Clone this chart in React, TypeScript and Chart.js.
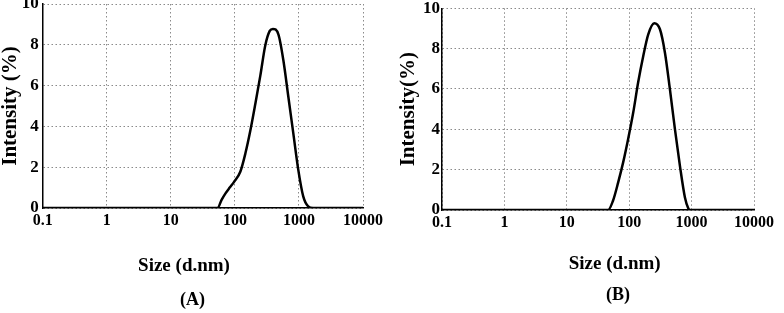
import React, { useEffect, useRef } from "react";
import { Chart, registerables } from "chart.js";
Chart.register(...registerables);

const xTickValues = [0.1, 1, 10, 100, 1000, 10000];
const xTickLabels = ["0.1", "1", "10", "100", "1000", "10000"];

const sizesA = [0.1, 0.4, 1, 10, 40, 53.5, 62, 71.8, 83, 96.6, 122, 146, 175, 209, 250, 298, 350, 392, 479, 572, 684, 817, 977, 1167, 1394, 1660, 2000, 10000];
const intensityA = [0, 0, 0, 0, 0, 0, 0.4, 0.73, 1.0, 1.27, 1.79, 2.68, 3.82, 5.12, 6.5, 7.97, 8.68, 8.78, 8.5, 7.23, 5.44, 3.66, 1.87, 0.57, 0.08, 0, 0, 0];

const sizesB = [0.1, 0.4, 1, 10, 40, 46, 55, 66.6, 80, 96, 116, 139, 168, 202, 252, 311, 374, 449, 541, 650, 782, 880, 941, 1200, 10000];
const intensityB = [0, 0, 0, 0, 0, 0, 0.46, 1.37, 2.36, 3.51, 4.83, 6.32, 7.64, 8.71, 9.26, 8.96, 7.8, 5.99, 4.0, 2.19, 0.62, 0.1, 0, 0, 0];

const SERIF = "'Liberation Serif', 'Times New Roman', serif";

type Opts = {
  sizes: number[];
  values: number[];
  padTop: number;
  padRight: number;
  xHeight: number;
  yWidth: number;
  yTitle: string;
  yTitlePad: number;
  yTickPad: number;
};

function makeConfig(o: Opts): any {
  return {
    type: "line",
    data: {
      datasets: [
        {
          data: o.sizes.map((s, i) => ({ x: s, y: o.values[i] })),
          borderColor: "#000",
          borderWidth: 2.5,
          pointRadius: 0,
          cubicInterpolationMode: "monotone",
          fill: false,
        },
      ],
    },
    options: {
      responsive: false,
      animation: false,
      layout: { padding: { left: 0, top: o.padTop, right: o.padRight, bottom: 0 } },
      plugins: { legend: { display: false }, tooltip: { enabled: false } },
      scales: {
        x: {
          type: "logarithmic",
          min: 0.1,
          max: 10000,
          afterBuildTicks: (scale: any) => {
            scale.ticks = xTickValues.map((v) => ({ value: v }));
          },
          afterFit: (scale: any) => {
            scale.height = o.xHeight;
            scale.paddingLeft = 0;
            scale.paddingRight = 0;
          },
          ticks: {
            autoSkip: false,
            maxRotation: 0,
            padding: 3,
            color: "#000",
            font: { family: SERIF, size: 16, weight: "bold" },
            callback: (v: any) => {
              const i = xTickValues.findIndex((t) => Math.abs(t - v) < 1e-9 * Math.max(1, t));
              return i >= 0 ? xTickLabels[i] : "";
            },
          },
          grid: { color: "#8a8a8a", lineWidth: 1, drawTicks: false },
          border: { color: "#000", width: 1.5, dash: [1.5, 2.5] },
        },
        y: {
          min: 0,
          max: 10,
          afterFit: (scale: any) => {
            scale.width = o.yWidth;
            scale.paddingTop = 0;
            scale.paddingBottom = 0;
          },
          ticks: {
            stepSize: 2,
            padding: o.yTickPad,
            color: "#000",
            font: { family: SERIF, size: 17, weight: "bold" },
          },
          grid: { color: "#8a8a8a", lineWidth: 1, drawTicks: false },
          border: { color: "#000", width: 1.5, dash: [1.5, 2.5] },
          title: {
            display: true,
            text: o.yTitle,
            color: "#000",
            padding: { top: o.yTitlePad, bottom: 0 },
            font: { family: SERIF, size: 21, weight: "bold", lineHeight: 1 },
          },
        },
      },
    },
  };
}

function Panel(props: { opts: Opts; left: number }) {
  const ref = useRef<HTMLCanvasElement | null>(null);
  useEffect(() => {
    if (!ref.current) return;
    const chart = new Chart(ref.current, makeConfig(props.opts));
    return () => chart.destroy();
  }, []);
  return (
    <div style={{ position: "absolute", left: props.left, top: 0, width: 392, height: 313 }}>
      <canvas ref={ref} width={392} height={313} style={{ width: 392, height: 313, display: "block" }} />
    </div>
  );
}

const labelStyle = (cx: number, cy: number, size: number): React.CSSProperties => ({
  position: "absolute",
  left: cx,
  top: cy,
  transform: "translate(-50%, -50%)",
  fontFamily: SERIF,
  fontWeight: "bold",
  fontSize: size,
  color: "#000",
  whiteSpace: "nowrap",
  lineHeight: 1,
});

export default function App() {
  const optsA: Opts = {
    sizes: sizesA,
    values: intensityA,
    padTop: 4,
    padRight: 29,
    xHeight: 105,
    yWidth: 42.7,
    yTitle: "Intensity (%)",
    yTitlePad: 0,
    yTickPad: 4,
  };
  const optsB: Opts = {
    sizes: sizesB,
    values: intensityB,
    padTop: 8.3,
    padRight: 30,
    xHeight: 103,
    yWidth: 50,
    yTitle: "Intensity(%)",
    yTitlePad: 6,
    yTickPad: 2,
  };
  return (
    <div style={{ position: "fixed", left: 0, top: 0, width: 784, height: 313, background: "#fff", overflow: "hidden" }}>
      <Panel opts={optsA} left={0} />
      <Panel opts={optsB} left={392} />
      <div style={labelStyle(184, 264, 19)}>Size (d.nm)</div>
      <div style={labelStyle(192.5, 299, 18)}>(A)</div>
      <div style={labelStyle(614.7, 262, 19)}>Size (d.nm)</div>
      <div style={labelStyle(618, 294, 18)}>(B)</div>
    </div>
  );
}
